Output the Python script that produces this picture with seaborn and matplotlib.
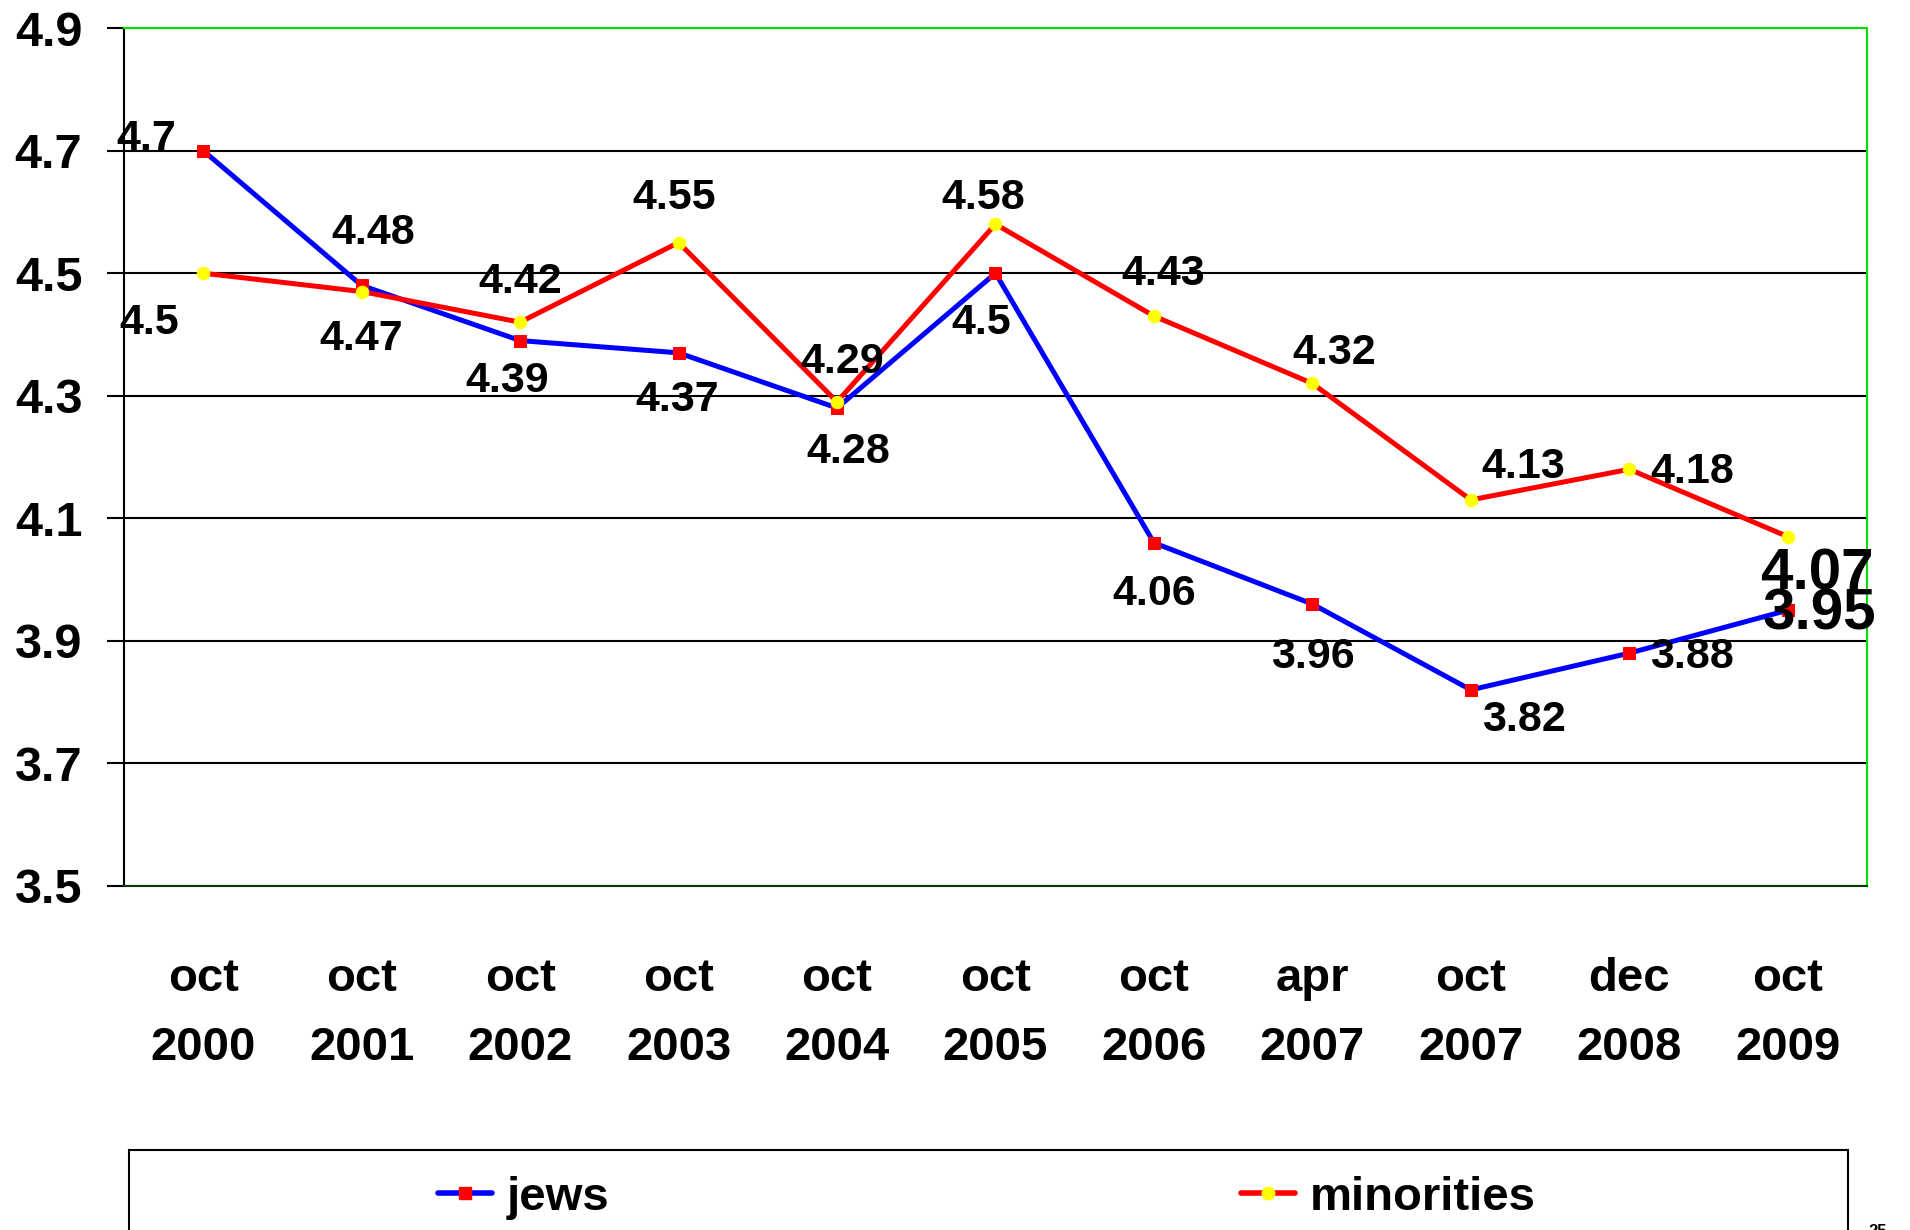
import numpy as np
import pandas as pd
import seaborn as sns
import matplotlib.pyplot as plt
from matplotlib.lines import Line2D
from matplotlib.patches import Rectangle

# data
periods = ['oct\n2000', 'oct\n2001', 'oct\n2002', 'oct\n2003', 'oct\n2004', 'oct\n2005',
           'oct\n2006', 'apr\n2007', 'oct\n2007', 'dec\n2008', 'oct\n2009']
jews = [4.7, 4.48, 4.39, 4.37, 4.28, 4.5, 4.06, 3.96, 3.82, 3.88, 3.95]
minorities = [4.5, 4.47, 4.42, 4.55, 4.29, 4.58, 4.43, 4.32, 4.13, 4.18, 4.07]
y_ticks = [3.5, 3.7, 3.9, 4.1, 4.3, 4.5, 4.7, 4.9]

# label offsets (points) so the value labels sit where the original has them
jews_off = [(-41, 8), (8, 38), (-9, -29), (-1, -34), (8, -32), (-10, -36),
            (0, -37), (0, -38), (38, -22), (45, -3), (23, -3)]
min_off = [(-39, -36), (0, -34), (0, 29), (-3, 32), (4, 29), (-9, 19),
           (7, 30), (16, 22), (38, 24), (45, -2), (21, -27)]

sns.set_style('white')
plt.rcParams['font.family'] = ['Liberation Sans', 'DejaVu Sans']
plt.rcParams['font.weight'] = 'bold'
plt.rcParams['text.color'] = 'black'
plt.rcParams['xtick.color'] = 'black'
plt.rcParams['ytick.color'] = 'black'

df = pd.DataFrame({'x': np.arange(len(periods)), 'jews': jews, 'minorities': minorities})

fig = plt.figure(figsize=(19.1, 12.3), dpi=100)
ax = fig.add_axes([0.0649, 0.2797, 0.9126, 0.6975])

sns.lineplot(data=df, x='x', y='jews', ax=ax, color='#0000FF', linewidth=3.6,
             marker='s', markersize=9, markerfacecolor='#FF0000',
             markeredgecolor='#FF0000', zorder=3)
sns.lineplot(data=df, x='x', y='minorities', ax=ax, color='#FF0000', linewidth=3.6,
             marker='o', markersize=9, markerfacecolor='#FFFF00',
             markeredgecolor='#FFFF00', zorder=4)

for i, v in enumerate(jews):
    fs = 42 if i == len(jews) - 1 else 31
    ax.annotate(f'{v:g}', (i, v), xytext=jews_off[i], textcoords='offset points',
                ha='center', va='center', fontsize=fs, fontweight='bold', color='black', zorder=6)
for i, v in enumerate(minorities):
    fs = 42 if i == len(minorities) - 1 else 31
    ax.annotate(f'{v:g}', (i, v), xytext=min_off[i], textcoords='offset points',
                ha='center', va='center', fontsize=fs, fontweight='bold', color='black', zorder=6)

ax.set_xlim(-0.5, len(periods) - 0.5)
ax.set_ylim(3.5, 4.9)
ax.set_yticks(y_ticks)
ax.set_yticklabels([f'{t:g}' for t in y_ticks], fontsize=35, fontweight='bold')
ax.set_xticks(np.arange(len(periods)))
ax.set_xticklabels(periods, fontsize=34, fontweight='bold', linespacing=1.75)
ax.set_xticks(np.arange(-0.5, len(periods)), minor=True)
ax.tick_params(axis='x', which='major', length=0, pad=51)
ax.tick_params(axis='x', which='minor', length=13, width=1.5, color='black', direction='out')
ax.tick_params(axis='y', length=12, width=1.5, color='black', direction='out', pad=18, left=True)
ax.set_xlabel('')
ax.set_ylabel('')
ax.yaxis.grid(True, color='black', linewidth=1.5)
ax.set_axisbelow(True)

ax.spines['left'].set_color('black')
ax.spines['left'].set_linewidth(1.5)
ax.spines['bottom'].set_color('#0a3a0a')
ax.spines['bottom'].set_linewidth(1.5)
ax.spines['top'].set_color('#00E000')
ax.spines['top'].set_linewidth(1.5)
ax.spines['right'].set_color('#00E000')
ax.spines['right'].set_linewidth(1.5)

# legend box running off the bottom of the page
fig.patches.append(Rectangle((129 / 1910, -0.05), (1848 - 129) / 1910, 0.05 + (1230 - 1150) / 1230,
                             transform=fig.transFigure, fill=False, edgecolor='black',
                             linewidth=1.5))
h_jews = Line2D([], [], color='#0000FF', linewidth=4, marker='s', markersize=9,
                markerfacecolor='#FF0000', markeredgecolor='#FF0000')
h_min = Line2D([], [], color='#FF0000', linewidth=4, marker='o', markersize=9,
               markerfacecolor='#FFFF00', markeredgecolor='#FFFF00')
leg_y = 1 - 1198 / 1230
fig.legend([h_jews], ['jews'], loc='center left', bbox_to_anchor=(438 / 1910, leg_y),
           frameon=False, prop={'size': 34, 'weight': 'bold'}, handlelength=1.15,
           handletextpad=0.3, borderpad=0, borderaxespad=0, labelcolor='black')
fig.legend([h_min], ['minorities'], loc='center left', bbox_to_anchor=(1241 / 1910, leg_y),
           frameon=False, prop={'size': 34, 'weight': 'bold'}, handlelength=1.15,
           handletextpad=0.3, borderpad=0, borderaxespad=0, labelcolor='black')

fig.text(1868 / 1910, 1 - 1224 / 1230, '25', fontsize=12, fontweight='bold', va='top')

fig.savefig('out.png', dpi=100)
